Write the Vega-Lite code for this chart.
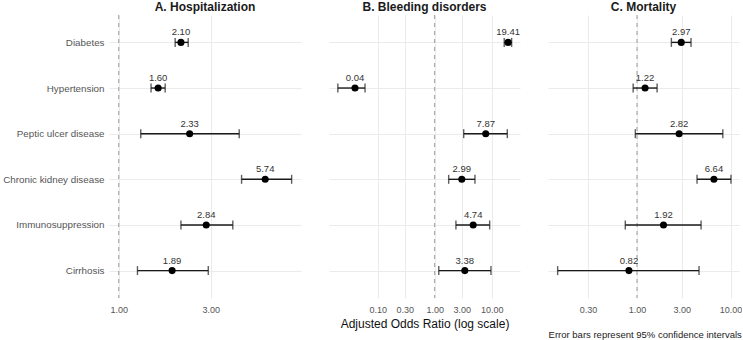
{
  "$schema": "https://vega.github.io/schema/vega-lite/v6.json",
  "padding": {"left": 2, "right": 0, "top": 0, "bottom": 2},
  "background": "white",
  "datasets": {
    "or": [
      {"outcome": "Hospitalization", "condition": "Diabetes", "or": 2.10, "lo": 1.96, "hi": 2.29},
      {"outcome": "Hospitalization", "condition": "Hypertension", "or": 1.60, "lo": 1.47, "hi": 1.74},
      {"outcome": "Hospitalization", "condition": "Peptic ulcer disease", "or": 2.33, "lo": 1.30, "hi": 4.21},
      {"outcome": "Hospitalization", "condition": "Chronic kidney disease", "or": 5.74, "lo": 4.33, "hi": 7.87},
      {"outcome": "Hospitalization", "condition": "Immunosuppression", "or": 2.84, "lo": 2.10, "hi": 3.90},
      {"outcome": "Hospitalization", "condition": "Cirrhosis", "or": 1.89, "lo": 1.25, "hi": 2.91},
      {"outcome": "Bleeding", "condition": "Diabetes", "or": 19.41, "lo": 16.6, "hi": 22.4},
      {"outcome": "Bleeding", "condition": "Hypertension", "or": 0.04, "lo": 0.020, "hi": 0.060},
      {"outcome": "Bleeding", "condition": "Peptic ulcer disease", "or": 7.87, "lo": 3.23, "hi": 18.8},
      {"outcome": "Bleeding", "condition": "Chronic kidney disease", "or": 2.99, "lo": 1.76, "hi": 5.09},
      {"outcome": "Bleeding", "condition": "Immunosuppression", "or": 4.74, "lo": 2.36, "hi": 9.22},
      {"outcome": "Bleeding", "condition": "Cirrhosis", "or": 3.38, "lo": 1.18, "hi": 9.72},
      {"outcome": "Mortality", "condition": "Diabetes", "or": 2.97, "lo": 2.33, "hi": 3.78},
      {"outcome": "Mortality", "condition": "Hypertension", "or": 1.22, "lo": 0.91, "hi": 1.64},
      {"outcome": "Mortality", "condition": "Peptic ulcer disease", "or": 2.82, "lo": 0.96, "hi": 8.26},
      {"outcome": "Mortality", "condition": "Chronic kidney disease", "or": 6.64, "lo": 4.38, "hi": 10.1},
      {"outcome": "Mortality", "condition": "Immunosuppression", "or": 1.92, "lo": 0.75, "hi": 4.84},
      {"outcome": "Mortality", "condition": "Cirrhosis", "or": 0.82, "lo": 0.142, "hi": 4.60}
    ],
    "ref": [{"ref": 1}]
  },
  "title": {"text": "Error bars represent 95% confidence intervals", "orient": "bottom", "anchor": "end", "fontSize": 9.5, "fontWeight": "normal", "color": "#222222", "font": "Liberation Sans", "offset": 1},
  "spacing": 28,
  "hconcat": [
    {
      "width": 192, "height": 283,
      "title": {"text": "A. Hospitalization", "fontSize": 12, "fontWeight": "bold", "anchor": "middle", "frame": "group", "offset": 1, "color": "#1a1a1a", "font": "Liberation Sans"},
      "data": {"name": "or"},
      "transform": [{"filter": "datum.outcome === 'Hospitalization'"}],
      "layer": [
        {"data": {"name": "ref"}, "mark": {"type": "rule", "stroke": "#9a9a9a", "strokeDash": [4, 4], "strokeWidth": 1},
         "encoding": {"x": {"field": "ref", "type": "quantitative", "scale": {"type": "log", "domain": [0.89, 8.8], "nice": false, "zero": false}, "axis": {"values": [1, 3], "format": ".2f", "title": null}}}},
        {"mark": {"type": "rule", "stroke": "#1a1a1a", "strokeWidth": 1.4},
         "encoding": {"x": {"field": "lo", "type": "quantitative"}, "x2": {"field": "hi"},
          "y": {"field": "condition", "type": "nominal", "sort": ["Diabetes", "Hypertension", "Peptic ulcer disease", "Chronic kidney disease", "Immunosuppression", "Cirrhosis"], "scale": {"type": "point", "padding": 0.6},
           "axis": {"title": null, "labelFontSize": 9.8, "labelColor": "#555555", "labelPadding": 5, "ticks": false, "domain": false, "grid": true}}}},
        {"mark": {"type": "tick", "color": "#1a1a1a", "thickness": 1.4, "size": 9},
         "encoding": {"x": {"field": "lo", "type": "quantitative"}, "y": {"field": "condition", "type": "nominal", "sort": ["Diabetes", "Hypertension", "Peptic ulcer disease", "Chronic kidney disease", "Immunosuppression", "Cirrhosis"]}}},
        {"mark": {"type": "tick", "color": "#1a1a1a", "thickness": 1.4, "size": 9},
         "encoding": {"x": {"field": "hi", "type": "quantitative"}, "y": {"field": "condition", "type": "nominal", "sort": ["Diabetes", "Hypertension", "Peptic ulcer disease", "Chronic kidney disease", "Immunosuppression", "Cirrhosis"]}}},
        {"mark": {"type": "point", "filled": true, "color": "black", "size": 50, "opacity": 1},
         "encoding": {"x": {"field": "or", "type": "quantitative"}, "y": {"field": "condition", "type": "nominal", "sort": ["Diabetes", "Hypertension", "Peptic ulcer disease", "Chronic kidney disease", "Immunosuppression", "Cirrhosis"]}}},
        {"mark": {"type": "text", "dy": -10, "fontSize": 9.5, "color": "#333333", "baseline": "middle"},
         "encoding": {"x": {"field": "or", "type": "quantitative"}, "y": {"field": "condition", "type": "nominal", "sort": ["Diabetes", "Hypertension", "Peptic ulcer disease", "Chronic kidney disease", "Immunosuppression", "Cirrhosis"]}, "text": {"field": "or", "type": "quantitative", "format": ".2f"}}}
      ]
    },
    {
      "width": 191, "height": 283,
      "title": {"text": "B. Bleeding disorders", "fontSize": 12, "fontWeight": "bold", "anchor": "middle", "frame": "group", "offset": 1, "color": "#1a1a1a", "font": "Liberation Sans"},
      "data": {"name": "or"},
      "transform": [{"filter": "datum.outcome === 'Bleeding'"}],
      "layer": [
        {"data": {"name": "ref"}, "mark": {"type": "rule", "stroke": "#9a9a9a", "strokeDash": [4, 4], "strokeWidth": 1},
         "encoding": {"x": {"field": "ref", "type": "quantitative", "scale": {"type": "log", "domain": [0.014, 31.4], "nice": false, "zero": false}, "axis": {"values": [0.1, 0.3, 1, 3, 10], "format": ".2f", "title": "Adjusted Odds Ratio (log scale)"}}}},
        {"mark": {"type": "rule", "stroke": "#1a1a1a", "strokeWidth": 1.4},
         "encoding": {"x": {"field": "lo", "type": "quantitative"}, "x2": {"field": "hi"},
          "y": {"field": "condition", "type": "nominal", "sort": ["Diabetes", "Hypertension", "Peptic ulcer disease", "Chronic kidney disease", "Immunosuppression", "Cirrhosis"], "scale": {"type": "point", "padding": 0.6},
           "axis": {"title": null, "labels": false, "minExtent": 0, "maxExtent": 0, "ticks": false, "domain": false, "grid": true}}}},
        {"mark": {"type": "tick", "color": "#1a1a1a", "thickness": 1.4, "size": 9},
         "encoding": {"x": {"field": "lo", "type": "quantitative"}, "y": {"field": "condition", "type": "nominal", "sort": ["Diabetes", "Hypertension", "Peptic ulcer disease", "Chronic kidney disease", "Immunosuppression", "Cirrhosis"]}}},
        {"mark": {"type": "tick", "color": "#1a1a1a", "thickness": 1.4, "size": 9},
         "encoding": {"x": {"field": "hi", "type": "quantitative"}, "y": {"field": "condition", "type": "nominal", "sort": ["Diabetes", "Hypertension", "Peptic ulcer disease", "Chronic kidney disease", "Immunosuppression", "Cirrhosis"]}}},
        {"mark": {"type": "point", "filled": true, "color": "black", "size": 50, "opacity": 1},
         "encoding": {"x": {"field": "or", "type": "quantitative"}, "y": {"field": "condition", "type": "nominal", "sort": ["Diabetes", "Hypertension", "Peptic ulcer disease", "Chronic kidney disease", "Immunosuppression", "Cirrhosis"]}}},
        {"mark": {"type": "text", "dy": -10, "fontSize": 9.5, "color": "#333333", "baseline": "middle"},
         "encoding": {"x": {"field": "or", "type": "quantitative"}, "y": {"field": "condition", "type": "nominal", "sort": ["Diabetes", "Hypertension", "Peptic ulcer disease", "Chronic kidney disease", "Immunosuppression", "Cirrhosis"]}, "text": {"field": "or", "type": "quantitative", "format": ".2f"}}}
      ]
    },
    {
      "width": 191, "height": 283,
      "title": {"text": "C. Mortality", "fontSize": 12, "fontWeight": "bold", "anchor": "middle", "frame": "group", "offset": 1, "color": "#1a1a1a", "font": "Liberation Sans"},
      "data": {"name": "or"},
      "transform": [{"filter": "datum.outcome === 'Mortality'"}],
      "layer": [
        {"data": {"name": "ref"}, "mark": {"type": "rule", "stroke": "#9a9a9a", "strokeDash": [4, 4], "strokeWidth": 1},
         "encoding": {"x": {"field": "ref", "type": "quantitative", "scale": {"type": "log", "domain": [0.112, 12.3], "nice": false, "zero": false}, "axis": {"values": [0.3, 1, 3, 10], "format": ".2f", "title": null}}}},
        {"mark": {"type": "rule", "stroke": "#1a1a1a", "strokeWidth": 1.4},
         "encoding": {"x": {"field": "lo", "type": "quantitative"}, "x2": {"field": "hi"},
          "y": {"field": "condition", "type": "nominal", "sort": ["Diabetes", "Hypertension", "Peptic ulcer disease", "Chronic kidney disease", "Immunosuppression", "Cirrhosis"], "scale": {"type": "point", "padding": 0.6},
           "axis": {"title": null, "labels": false, "minExtent": 0, "maxExtent": 0, "ticks": false, "domain": false, "grid": true}}}},
        {"mark": {"type": "tick", "color": "#1a1a1a", "thickness": 1.4, "size": 9},
         "encoding": {"x": {"field": "lo", "type": "quantitative"}, "y": {"field": "condition", "type": "nominal", "sort": ["Diabetes", "Hypertension", "Peptic ulcer disease", "Chronic kidney disease", "Immunosuppression", "Cirrhosis"]}}},
        {"mark": {"type": "tick", "color": "#1a1a1a", "thickness": 1.4, "size": 9},
         "encoding": {"x": {"field": "hi", "type": "quantitative"}, "y": {"field": "condition", "type": "nominal", "sort": ["Diabetes", "Hypertension", "Peptic ulcer disease", "Chronic kidney disease", "Immunosuppression", "Cirrhosis"]}}},
        {"mark": {"type": "point", "filled": true, "color": "black", "size": 50, "opacity": 1},
         "encoding": {"x": {"field": "or", "type": "quantitative"}, "y": {"field": "condition", "type": "nominal", "sort": ["Diabetes", "Hypertension", "Peptic ulcer disease", "Chronic kidney disease", "Immunosuppression", "Cirrhosis"]}}},
        {"mark": {"type": "text", "dy": -10, "fontSize": 9.5, "color": "#333333", "baseline": "middle"},
         "encoding": {"x": {"field": "or", "type": "quantitative"}, "y": {"field": "condition", "type": "nominal", "sort": ["Diabetes", "Hypertension", "Peptic ulcer disease", "Chronic kidney disease", "Immunosuppression", "Cirrhosis"]}, "text": {"field": "or", "type": "quantitative", "format": ".2f"}}}
      ]
    }
  ],
  "config": {
    "view": {"stroke": null},
    "font": "Liberation Sans",
    "axis": {"gridColor": "#ebebeb", "gridWidth": 1, "labelFont": "Liberation Sans", "titleFont": "Liberation Sans"},
    "axisX": {"grid": true, "domain": false, "ticks": false, "tickSize": 0, "labelFontSize": 9, "labelColor": "#555555", "labelPadding": 7, "titleFontSize": 12, "titleFontWeight": "normal", "titleColor": "#111111", "titlePadding": 4}
  }
}
